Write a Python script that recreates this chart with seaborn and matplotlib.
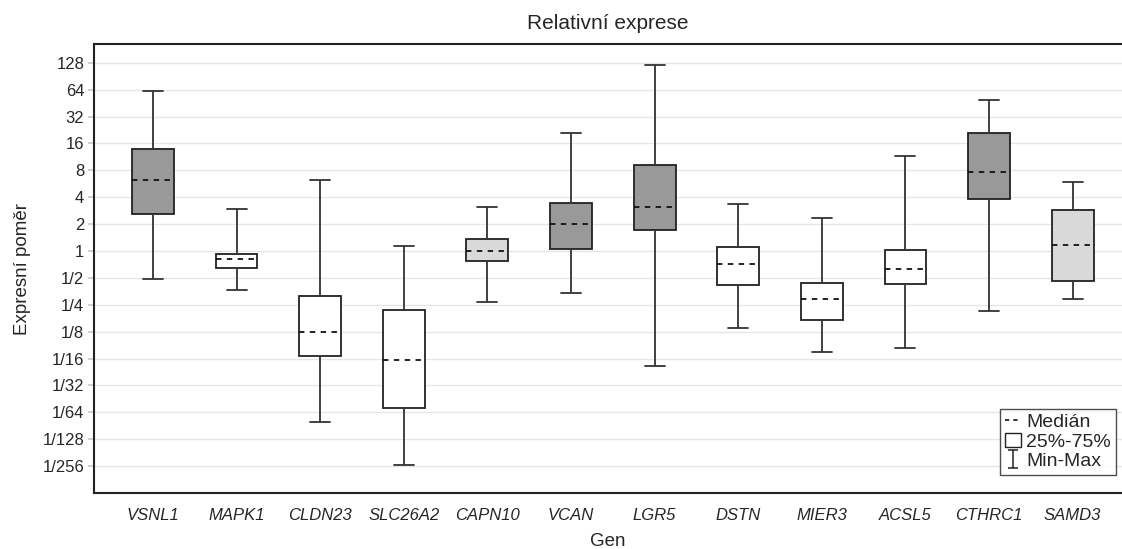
import numpy as np
import pandas as pd
import matplotlib
matplotlib.use("Agg")
import matplotlib.pyplot as plt
import seaborn as sns
from matplotlib.lines import Line2D
from matplotlib.patches import Patch
from matplotlib.path import Path

genes = ["VSNL1", "MAPK1", "CLDN23", "SLC26A2", "CAPN10", "VCAN",
         "LGR5", "DSTN", "MIER3", "ACSL5", "CTHRC1", "SAMD3"]
mins    = [0.49, 0.37, 0.0123, 0.00401, 0.272, 0.337, 0.052, 0.136, 0.0733, 0.0814, 0.215, 0.287]
q1s     = [2.58, 0.64, 0.0666, 0.0176, 0.78, 1.06, 1.74, 0.418, 0.168, 0.43, 3.84, 0.467]
medians = [6.2, 0.81, 0.124, 0.0604, 1.0, 2.0, 3.12, 0.72, 0.29, 0.63, 7.67, 1.17]
q3s     = [13.7, 0.92, 0.31, 0.218, 1.35, 3.41, 9.25, 1.12, 0.435, 1.04, 20.8, 2.91]
maxs    = [62.2, 2.99, 6.2, 1.15, 3.12, 20.7, 122.0, 3.34, 2.33, 11.55, 49.5, 6.0]
fills   = ["#999999", "#ffffff", "#ffffff", "#ffffff", "#d9d9d9", "#999999",
           "#999999", "#ffffff", "#ffffff", "#ffffff", "#999999", "#d9d9d9"]
ytick_vals = [2.0 ** k for k in range(7, -9, -1)]
ytick_labels = ["128", "64", "32", "16", "8", "4", "2", "1",
                "1/2", "1/4", "1/8", "1/16", "1/32", "1/64", "1/128", "1/256"]

rows = []
for g, a, b, c, d, e in zip(genes, mins, q1s, medians, q3s, maxs):
    for v in (a, b, c, d, e):
        rows.append({"Gen": g, "value": v})
df = pd.DataFrame(rows)

sns.set_theme(style="white")
plt.rcParams["font.family"] = ["Liberation Sans", "DejaVu Sans"]

fig = plt.figure(figsize=(11.22, 5.49), dpi=100)
ax = fig.add_axes([94 / 1122, 1 - 493 / 549, (1122 - 94) / 1122, (493 - 44) / 549])

ax.set_yscale("log", base=2)

sns.boxplot(data=df, x="Gen", y="value", hue="Gen", palette=dict(zip(genes, fills)),
            legend=False, whis=np.inf, width=0.5, ax=ax, linewidth=1.3,
            linecolor="#222222", saturation=1,
            medianprops=dict(linestyle=(0, (3, 3)), color="#111111", linewidth=1.3),
            capprops=dict(color="#333333"), whiskerprops=dict(color="#333333"))

# shorten caps
for line in ax.lines:
    xd = line.get_xdata()
    yd = line.get_ydata()
    if len(xd) == 2 and yd[0] == yd[1] and abs(xd[1] - xd[0]) > 0.2 and line.get_linestyle() == "-":
        cx = (xd[0] + xd[1]) / 2
        line.set_xdata([cx - 0.12, cx + 0.12])

ax.set_ylim(2.0 ** -9.0, 2.0 ** 7.7)
ax.set_xlim(-0.705, 11.59)
ax.set_yticks(ytick_vals)
ax.set_yticklabels(ytick_labels)
ax.yaxis.set_minor_locator(matplotlib.ticker.NullLocator())
ax.set_axisbelow(True)
ax.yaxis.grid(True, color="#e6e6e6", linewidth=1.0)
ax.xaxis.grid(False)
ax.tick_params(axis="y", left=True, length=4, color="#cccccc", labelsize=12, pad=3)
ax.tick_params(axis="x", bottom=False, labelsize=12, pad=5)
for lbl in ax.get_xticklabels():
    lbl.set_fontstyle("italic")

ax.set_title("Relativní exprese", fontsize=15, pad=11)
ax.set_xlabel("Gen", fontsize=13.5, labelpad=7)
ax.set_ylabel("Expresní poměr", fontsize=13.5, labelpad=8)

for s in ["top", "left", "bottom"]:
    ax.spines[s].set_color("#222222")
    ax.spines[s].set_linewidth(1.5)
ax.spines["right"].set_visible(False)

cap_path = Path([(-0.5, -1), (0.5, -1), (0, -1), (0, 1), (-0.5, 1), (0.5, 1)],
                [Path.MOVETO, Path.LINETO, Path.MOVETO, Path.LINETO, Path.MOVETO, Path.LINETO])
handles = [
    Line2D([0], [0], color="#111111", lw=1.2, linestyle=(0, (2.5, 2.5))),
    Patch(facecolor="white", edgecolor="#222222", linewidth=1.0),
    Line2D([0], [0], color="#222222", lw=0, marker=cap_path, markersize=13,
           markeredgewidth=1.1, markerfacecolor="none"),
]
leg = ax.legend(handles, ["Medián", "25%-75%", "Min-Max"], loc="lower right",
                frameon=True, fancybox=False, fontsize=14, handlelength=0.8,
                handletextpad=0.3, borderpad=0.25, labelspacing=0.1, borderaxespad=0)
leg.set_bbox_to_anchor((1116 / 1122, 1 - 475 / 549), transform=fig.transFigure)
leg.get_frame().set_edgecolor("#222222")
leg.get_frame().set_linewidth(1.0)

fig.savefig("out.png", dpi=100)
